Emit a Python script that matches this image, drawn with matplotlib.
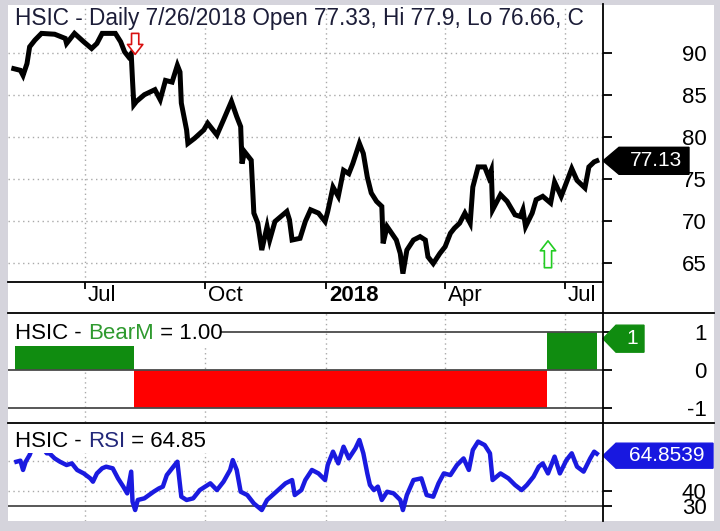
import numpy as np
import pandas as pd
import matplotlib
matplotlib.use('Agg')
import matplotlib.pyplot as plt
import matplotlib.dates as mdates
from matplotlib.lines import Line2D
from matplotlib.patches import Rectangle, Polygon
from matplotlib.transforms import ScaledTranslation

plt.rcParams['font.family'] = ['Liberation Sans', 'DejaVu Sans']

# all x values are days after base_date
base_date = '2017-07-03'

price_day = [-54, -49, -47, -44, -42, -38, -33, -23, -15, -14, -8, -1, 5, 9, 13, 23, 27, 30, 33, 35,
             36, 37, 39, 45, 53, 57, 61, 66, 70, 72, 73, 77, 78, 83, 90, 93, 100, 105, 111, 115,
             118, 119, 121, 126, 128, 131, 134, 138, 140, 144, 153, 155, 157, 163, 167, 171, 177, 182, 184, 188,
             192, 196, 200, 203, 208, 211, 214, 217, 221, 225, 226, 229, 236, 239, 241, 244, 249, 254, 258, 260,
             264, 269, 273, 277, 280, 284, 288, 292, 294, 298, 303, 306, 308, 309, 315, 320, 326, 330, 332, 334,
             339, 342, 347, 353, 356, 361, 369, 373, 379, 382, 386, 388]
price_close = [88.1, 87.9, 87.3, 88.7, 90.7, 91.5, 92.3, 92.2, 91.7, 91.1, 92.3, 91.3, 90.5, 91.1, 92.3, 92.3, 91.3, 90.1, 89.5, 89.9,
               86.7, 83.8, 84.2, 85.0, 85.6, 84.4, 86.7, 86.5, 88.5, 87.7, 84.0, 80.8, 79.2, 79.8, 80.8, 81.6, 80.2, 82.0, 84.2, 82.4,
               81.2, 76.8, 78.2, 77.2, 70.9, 69.7, 66.5, 69.3, 67.7, 69.9, 71.1, 70.1, 67.7, 67.9, 69.9, 71.3, 70.9, 69.9, 71.1, 74.0,
               72.9, 76.0, 75.6, 76.8, 79.2, 78.0, 75.2, 73.3, 72.3, 71.7, 67.3, 69.3, 67.7, 66.1, 63.7, 66.5, 67.7, 68.1, 67.7, 65.7,
               64.9, 66.1, 66.9, 68.5, 69.1, 69.7, 70.9, 69.7, 74.0, 76.4, 76.4, 75.2, 76.0, 71.3, 73.1, 72.3, 70.7, 70.5, 71.3, 69.3,
               70.9, 72.5, 72.9, 72.1, 74.6, 72.9, 76.2, 74.8, 73.9, 76.4, 77.0, 77.13]

rsi_day = [-52, -49, -47, -45, -42, -39, -36, -33, -29, -27, -23, -19, -14, -10, -6, -1, 4, 6, 9, 13,
           16, 21, 25, 29, 32, 35, 36, 38, 40, 45, 52, 56, 59, 62, 67, 70, 73, 77, 82, 87,
           95, 100, 105, 110, 112, 115, 118, 123, 128, 134, 138, 145, 152, 157, 159, 164, 167, 172, 177, 182,
           184, 188, 192, 196, 200, 205, 208, 211, 214, 216, 219, 222, 225, 229, 234, 239, 241, 244, 249, 255,
           259, 264, 268, 272, 277, 282, 287, 291, 294, 298, 303, 307, 309, 315, 321, 326, 331, 335, 340, 344,
           347, 351, 356, 360, 365, 369, 373, 378, 383, 386, 388]
rsi_value = [59.5, 60.2, 54.0, 59.5, 64.0, 71, 74, 70, 65.1, 65.1, 61.7, 59.5, 57.3, 58.4, 54.0, 51.7, 48.4, 46.2, 51.7, 55.1,
             56.2, 55.1, 48.4, 42.9, 38.4, 52.9, 32.9, 27.3, 34.0, 35.1, 39.5, 41.7, 42.9, 50.6, 56.2, 59.5, 36.2, 34.0, 35.1, 40.6,
             45.1, 40.6, 46.2, 54.0, 60.6, 54.0, 39.5, 37.3, 31.7, 27.3, 34.0, 39.5, 45.1, 47.3, 37.3, 40.6, 47.3, 54.0, 51.7, 47.3,
             57.3, 66.2, 58.4, 69.5, 61.7, 68.4, 74.0, 65.1, 51.7, 44.0, 40.6, 42.9, 34.0, 39.5, 38.4, 34.0, 27.3, 37.3, 47.3, 48.4,
             37.3, 36.2, 45.1, 51.7, 50.6, 57.3, 61.7, 54.0, 67.3, 72.9, 70.6, 65.1, 47.3, 51.7, 48.4, 44.0, 40.6, 44.0, 49.5, 56.2,
             58.4, 51.7, 62.9, 51.7, 60.6, 65.1, 56.2, 52.9, 61.7, 66.2, 64.85]

bear_start = [-53, 37, 350]
bear_end = [37, 350, 388]
bear_value = [1, -1, 1]

sell_day, sell_top, sell_tip = 38, 92.3, 89.8
buy_day, buy_bottom, buy_tip = 351, 64.4, 67.6

month_ticks = ['2017-07-03', '2017-10-02', '2018-01-02', '2018-04-02', '2018-07-02']
month_labels = ['Jul', 'Oct', '2018', 'Apr', 'Jul']
price_ticks = [65, 70, 75, 80, 85, 90]
bear_ticks = [-1, 0, 1]
rsi_ticks = [30, 40]
rsi_grid = [40, 60]

title = 'HSIC - Daily 7/26/2018 Open 77.33, Hi 77.9, Lo 76.66, C'
last_close = 77.13
last_bear = 1
last_rsi = 64.8539

W, H = 720, 531


def box(left, top, right, bottom):
    return [left / W, 1 - bottom / H, (right - left) / W, (bottom - top) / H]


def to_x(days):
    return mdates.date2num(pd.Timestamp(base_date)) + np.asarray(days, dtype=float)


def value_tag(ax, value, text, color, width, height, tip, dy=0):
    # pentagon label pointing at the axis, sizes in pixels
    trans = fig.dpi_scale_trans + ScaledTranslation(1, value, ax.get_yaxis_transform())
    w, h, t, d = width / 100, height / 100, tip / 100, dy / 100
    verts = [(0, d), (t, d + h / 2), (w, d + h / 2), (w, d - h / 2), (t, d - h / 2)]
    ax.add_patch(Polygon(verts, closed=True, transform=trans, fc=color, ec=color,
                         clip_on=False, zorder=6))
    ax.text((t + w) / 2 + 0.02, d, text, transform=trans, color='white', fontsize=15,
            ha='center', va='center', zorder=7, clip_on=False)


def panel_label(ax, y, parts):
    # coloured pieces of a label, one after the other on one baseline
    prev = ax.text(7 / 595, y, parts[0][0], transform=ax.transAxes, fontsize=16,
                   color=parts[0][1], va='baseline', ha='left', zorder=5)
    for txt, col in parts[1:]:
        prev = ax.annotate(txt, xy=(1, 0), xycoords=prev, va='bottom', ha='left',
                           fontsize=16, color=col, zorder=5)


fig = plt.figure(figsize=(7.2, 5.31), dpi=100, facecolor='#d5d4dc')
fig.patches.append(Rectangle((8 / W, 1 - 521 / H), 706 / W, 516 / H, transform=fig.transFigure,
                             fc='white', ec='none', zorder=-5))

ax1 = fig.add_axes(box(8, 5, 603, 282))
ax2 = fig.add_axes(box(8, 313, 603, 422))
ax3 = fig.add_axes(box(8, 423, 603, 521))

tick_x = mdates.date2num(pd.to_datetime(month_ticks))
xlim = (to_x(-58.4), to_x(392.7))
grid_kw = dict(color='#a9a9a9', linestyle=(0, (1, 2.5)), linewidth=1.0, zorder=1)

for ax in (ax1, ax2, ax3):
    ax.set_xlim(*xlim)
    for s in ax.spines.values():
        s.set_visible(False)
    ax.set_xticks(tick_x)
    ax.yaxis.tick_right()
    ax.tick_params(axis='y', direction='out', length=6.5, width=1.3, color='black',
                   pad=68, labelsize=16)
    for x in tick_x:
        ax.axvline(x, **grid_kw)

# price panel
ax1.set_ylim(62.7, 95.68)
ax1.set_yticks(price_ticks)
for p in price_ticks:
    ax1.axhline(p, **grid_kw)
ax1.plot(to_x(price_day), price_close, color='black', linewidth=3.6, zorder=3,
         solid_joinstyle='miter')
ax1.spines['bottom'].set_visible(True)
ax1.spines['bottom'].set_linewidth(1.3)
ax1.set_xticklabels(month_labels)
ax1.tick_params(axis='x', direction='out', length=5, width=1.3, pad=-2.5, labelsize=16)
for lab in ax1.get_xticklabels():
    lab.set_horizontalalignment('left')
    lab.set_transform(lab.get_transform() + ScaledTranslation(0.03, 0, fig.dpi_scale_trans))
ax1.get_xticklabels()[2].set_fontweight('bold')
ax1.text(7 / 595, 1 - 20 / 277, title, transform=ax1.transAxes, fontsize=16.3,
         color='#1c1d38', va='baseline', ha='left', zorder=5)

ax1.annotate('', xy=(to_x(sell_day), sell_tip), xytext=(to_x(sell_day), sell_top),
             arrowprops=dict(arrowstyle='simple,head_length=0.55,head_width=0.85,tail_width=0.4',
                             fc='white', ec='#d81010', lw=1.2, shrinkA=0, shrinkB=0,
                             mutation_scale=13), zorder=4)
ax1.annotate('', xy=(to_x(buy_day), buy_tip), xytext=(to_x(buy_day), buy_bottom),
             arrowprops=dict(arrowstyle='simple,head_length=0.55,head_width=0.85,tail_width=0.4',
                             fc='white', ec='#22cc22', lw=1.2, shrinkA=0, shrinkB=0,
                             mutation_scale=13), zorder=4)
value_tag(ax1, last_close, f'{last_close:.2f}', 'black', 86, 27, 16)

# BearM panel
ax2.set_ylim(-1.358, 1.488)
ax2.set_yticks(bear_ticks)
ax2.set_yticklabels([str(t) for t in bear_ticks])
ax2.tick_params(axis='x', length=0, labelbottom=False)
bear_colors = ['#108c10' if v > 0 else '#ff0000' for v in bear_value]
ax2.bar(to_x(bear_start), bear_value, width=np.array(bear_end) - np.array(bear_start),
        align='edge', color=bear_colors, zorder=2)
for v in bear_ticks:
    ax2.axhline(v, color='#4a4a4a', linewidth=1.3, zorder=3)
panel_label(ax2, 1 - 26 / 109, [('HSIC - ', 'black'), ('BearM', '#2f9a2f'), (' = 1.00', 'black')])
ax2.add_patch(Rectangle((0, 1 - 33 / 109), 212 / 595, 33 / 109, transform=ax2.transAxes,
                        fc='white', ec='none', zorder=4))
value_tag(ax2, last_bear, '1', '#108c10', 41, 27, 13, dy=-7)

# RSI panel
ax3.set_ylim(20.0, 85.3)
ax3.set_yticks(rsi_ticks)
ax3.tick_params(axis='x', length=0, labelbottom=False)
for g in rsi_grid:
    ax3.axhline(g, **grid_kw)
ax3.axhline(30, color='#4a4a4a', linewidth=1.3, zorder=2)
ax3.plot(to_x(rsi_day), rsi_value, color='#1a1ae0', linewidth=3.2, zorder=3)
panel_label(ax3, 1 - 24 / 98, [('HSIC - ', 'black'), ('RSI', '#23287a'), (' = 64.85', 'black')])
ax3.add_patch(Rectangle((0, 1 - 30 / 98), 205 / 595, 30 / 98, transform=ax3.transAxes,
                        fc='white', ec='none', zorder=4))
value_tag(ax3, last_rsi, f'{last_rsi:.4f}', '#1818e0', 110, 25, 13, dy=-2)

for ax in (ax1, ax2, ax3):
    for lab in ax.get_yticklabels():
        lab.set_horizontalalignment('right')

# panel separators and right axis line
for y in (312.7, 422.7):
    fig.add_artist(Line2D([8 / W, 714 / W], [1 - y / H, 1 - y / H], color='black', linewidth=1.3))
fig.add_artist(Line2D([603 / W, 603 / W], [1 - 4 / H, 1 - 521 / H], color='black', linewidth=1.3))

fig.savefig('out.png', dpi=100, facecolor=fig.get_facecolor())
